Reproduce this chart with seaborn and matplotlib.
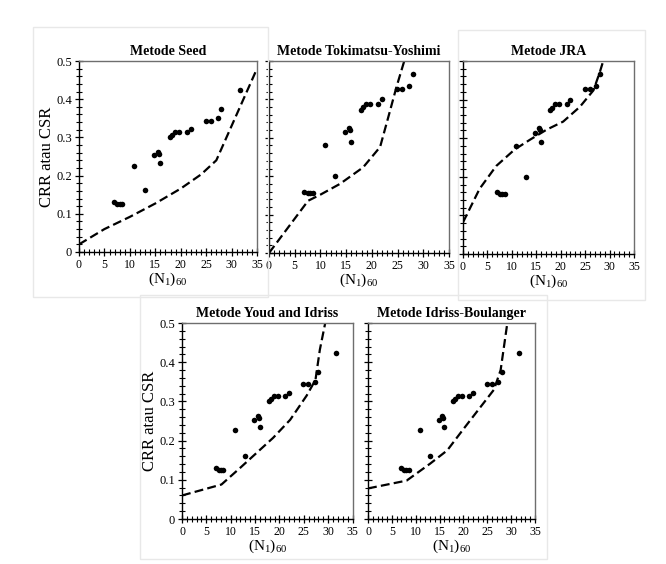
import numpy as np
import matplotlib
matplotlib.use("Agg")
import matplotlib.pyplot as plt
import seaborn as sns
import pandas as pd
from matplotlib.patches import Rectangle
from matplotlib.ticker import MultipleLocator

# ---------------- data ----------------
n160 = [6.9, 7.5, 8.0, 8.5, 10.9, 12.9, 14.8, 15.5, 15.8, 16.0, 17.9, 18.2,
        18.9, 19.7, 21.2, 22.0, 24.9, 25.9, 27.3, 28.0, 31.6]
csr_seed = [0.130, 0.126, 0.125, 0.125, 0.226, 0.161, 0.253, 0.263, 0.257, 0.234,
            0.300, 0.306, 0.313, 0.313, 0.313, 0.322, 0.344, 0.344, 0.350, 0.374, 0.424]
csr_tj = [0.160, 0.155, 0.155, 0.155, 0.280, 0.200, 0.314, 0.326, 0.320, 0.290,
          0.373, 0.379, 0.388, 0.388, 0.388, 0.400, 0.427, 0.427, 0.436, 0.466, np.nan]

seed_n = [0, 5, 10, 15, 20, 24, 27, 30, 35]
seed_crr = [0.020, 0.060, 0.092, 0.127, 0.166, 0.203, 0.240, 0.330, 0.480]

toki_n = [0, 7.6, 10, 13.8, 18.3, 21.6, 23.2, 24.8, 26.3]
toki_crr = [0.0, 0.136, 0.152, 0.180, 0.223, 0.276, 0.354, 0.433, 0.500]

jra_n = [0, 3.4, 6.8, 10.6, 13.7, 17.1, 20.5, 23.9, 26.7, 28.0, 28.7]
jra_crr = [0.082, 0.169, 0.228, 0.271, 0.296, 0.322, 0.343, 0.381, 0.424, 0.471, 0.500]

youd_n = [0, 8.1, 11.9, 18.7, 22.2, 25.6, 27.4, 28.3, 29.4]
youd_crr = [0.060, 0.088, 0.130, 0.207, 0.253, 0.315, 0.355, 0.432, 0.500]

ib_n = [0, 8.1, 13.0, 16.6, 20.1, 23.6, 26.4, 27.8, 28.5, 29.2]
ib_crr = [0.078, 0.098, 0.141, 0.175, 0.231, 0.286, 0.330, 0.380, 0.440, 0.500]

titles = ["Metode Seed", "Metode Tokimatsu-Yoshimi", "Metode JRA",
          "Metode Youd and Idriss", "Metode Idriss-Boulanger"]
x_ticks = [0, 5, 10, 15, 20, 25, 30, 35]
y_ticks = [0, 0.1, 0.2, 0.3, 0.4, 0.5]
y_ticklabels = ["0", "0.1", "0.2", "0.3", "0.4", "0.5"]

# ---------------- style ----------------
sns.set_theme(style="white")
plt.rcParams["font.family"] = ["Liberation Serif", "DejaVu Serif"]
plt.rcParams["mathtext.default"] = "regular"

W, H = 666, 564
fig = plt.figure(figsize=(W / 100, H / 100), dpi=100)
fig.patch.set_facecolor("white")

def px_rect(l, t, r, b):
    return [l / W, 1 - b / H, (r - l) / W, (b - t) / H]

# faint chart-area frames
for (l, t, r, b) in [(33, 27, 268, 297), (458, 30, 645, 300), (140, 295, 547, 559)]:
    fig.patches.append(Rectangle((l / W, 1 - b / H), (r - l) / W, (b - t) / H,
                                 transform=fig.transFigure, fill=False,
                                 edgecolor="#e8e8e8", linewidth=1.0, zorder=0))

rects = [px_rect(79, 61, 257, 252), px_rect(269, 61, 449, 253), px_rect(463, 61, 634, 254),
         px_rect(182, 323, 352.5, 519), px_rect(368, 323, 535, 519)]
lines = [(seed_n, seed_crr), (toki_n, toki_crr), (jra_n, jra_crr),
         (youd_n, youd_crr), (ib_n, ib_crr)]
pts = [csr_seed, csr_tj, csr_tj, csr_seed, csr_seed]
show_y = [True, False, False, True, False]

for i in range(5):
    ax = fig.add_axes(rects[i])
    ax.set_facecolor("white")
    dfp = pd.DataFrame({"N": n160, "CSR": pts[i]}).dropna()
    dfl = pd.DataFrame({"N": lines[i][0], "CRR": lines[i][1]})
    sns.lineplot(data=dfl, x="N", y="CRR", ax=ax, color="black", linewidth=1.6,
                 estimator=None, sort=False, dashes=False)
    ax.lines[-1].set_dashes((4.0, 1.9))
    sns.scatterplot(data=dfp, x="N", y="CSR", ax=ax, color="black", s=16,
                    edgecolor="black", linewidth=0, zorder=3)
    ax.set_xlim(0, 35)
    ax.set_ylim(0, 0.5)
    ax.xaxis.set_minor_locator(MultipleLocator(1))
    ax.yaxis.set_minor_locator(MultipleLocator(0.02))
    ax.set_xticks(x_ticks)
    ax.set_xticklabels([str(v) for v in x_ticks])
    ax.set_yticks(y_ticks)
    ax.tick_params(axis="both", which="major", direction="inout", length=6, width=0.9,
                   colors="black", pad=2)
    ax.tick_params(axis="x", which="major", labelsize=8.5)
    ax.tick_params(axis="y", which="major", labelsize=9)
    ax.tick_params(axis="both", which="minor", direction="inout", length=4.5, width=0.8,
                   colors="black")
    ax.tick_params(axis="both", which="both", bottom=True, left=True, top=False, right=False)
    if show_y[i]:
        ax.set_yticklabels(y_ticklabels)
        ax.set_ylabel("CRR atau CSR", fontsize=12, labelpad=1, color="black")
    else:
        ax.set_yticklabels([])
        ax.set_ylabel("")
    ax.set_xlabel(r"(N$_1$)$_{60}$", fontsize=11, labelpad=0, color="black")
    ax.set_title(titles[i], fontsize=10, fontweight="bold", pad=4, color="black")
    for side in ["left", "bottom"]:
        ax.spines[side].set_color("black")
        ax.spines[side].set_linewidth(1.0)
    for side in ["top", "right"]:
        ax.spines[side].set_color("#6e6e6e")
        ax.spines[side].set_linewidth(1.0)
    for sp in ax.spines.values():
        sp.set_visible(True)

fig.savefig("out.png", dpi=100, facecolor="white")
